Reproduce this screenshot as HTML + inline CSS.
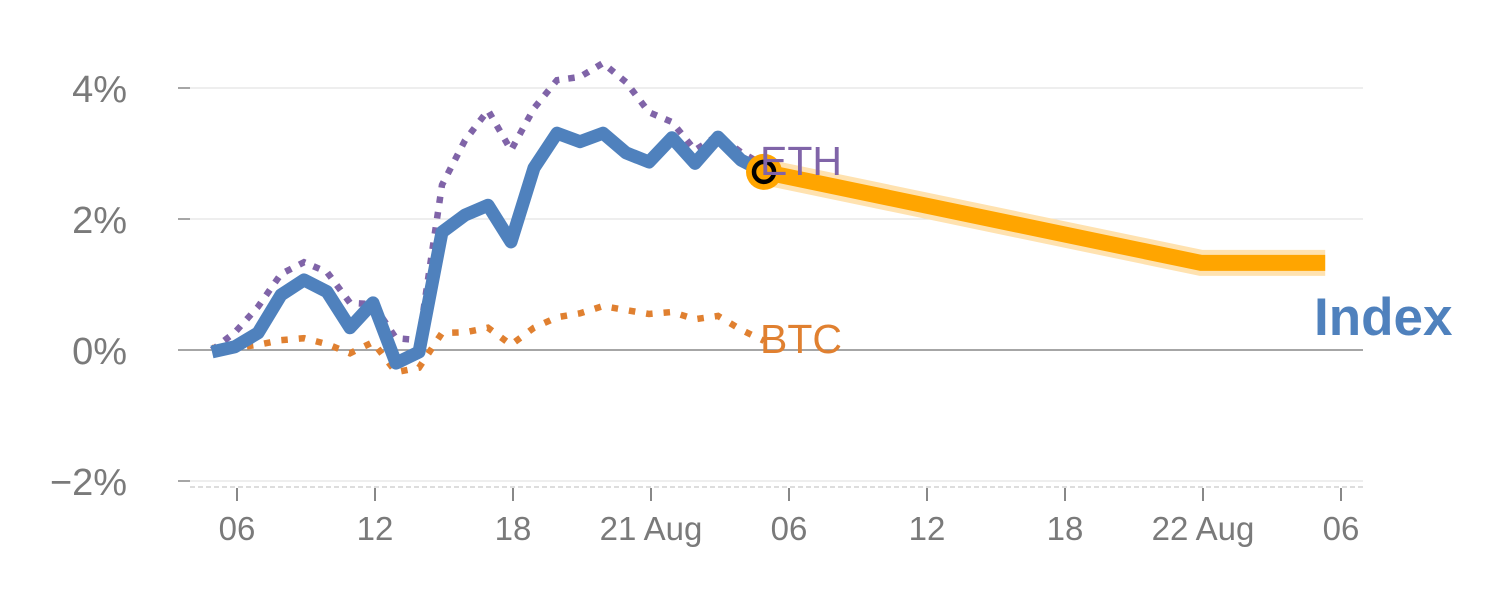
<!DOCTYPE html>
<html><head><meta charset="utf-8"><style>
html,body{margin:0;padding:0;background:#fff;}
svg{display:block;font-family:"Liberation Sans",sans-serif;}
</style></head><body>
<svg id="chart" width="1500" height="600" viewBox="0 0 1500 600" xmlns="http://www.w3.org/2000/svg">
<g id="grid"></g>
<g id="axes"></g>
<g id="series"></g>
<g id="labels"></g>
</svg>
<script>
// data (hours since 05:00 on first day)
const indexHours = [0,1,2,3,4,5,6,7,8,9,10,11,12,13,14,15,16,17,18,19,20,21,22,23,24];
const indexValues = [-0.03,0.05,0.26,0.84,1.07,0.89,0.34,0.72,-0.2,-0.03,1.8,2.06,2.21,1.65,2.78,3.31,3.18,3.31,3.01,2.87,3.24,2.85,3.25,2.9,2.72];
const ethValues = [0,0.27,0.66,1.16,1.34,1.19,0.72,0.7,0.18,0.15,2.52,3.2,3.66,3.05,3.69,4.12,4.17,4.38,4.09,3.63,3.48,3.05,3.28,3.02,2.82];
const btcValues = [0.03,0.03,0.08,0.15,0.18,0.09,-0.05,0.12,-0.34,-0.27,0.26,0.27,0.34,0.08,0.34,0.5,0.56,0.67,0.61,0.55,0.58,0.47,0.52,0.31,0.14];
const forecastHours = [24,43,48.4];
const forecastValues = [2.72,1.33,1.33];
const yTicks = [4,2,0,-2];
const yTickLabels = ["4%","2%","0%","\u22122%"];
const xTickHours = [1,7,13,19,25,31,37,43,49];
const xTickLabels = ["06","12","18","21 Aug","06","12","18","22 Aug","06"];

const NS="http://www.w3.org/2000/svg";
const x = h => 212 + 23*h;
const y = v => 350 - 65.5*v;
function mk(tag, attrs, parent){const e=document.createElementNS(NS,tag);for(const k in attrs)e.setAttribute(k,attrs[k]);parent.appendChild(e);return e;}
const grid=document.getElementById('grid'), axes=document.getElementById('axes'), series=document.getElementById('series'), labels=document.getElementById('labels');
const xt = h => 214 + 23*h;

yTicks.forEach((t,i)=>{
  const g=mk('line',{x1:190,x2:1363,y1:y(t),y2:y(t),stroke:t===0?'#888':'#e3e3e3','stroke-width':t===0?1.5:1.2},grid);
  
  
  const tk=mk('line',{x1:178,x2:190,y1:y(t),y2:y(t),stroke:'#888','stroke-width':1.5},axes);
  
  
  const tl=mk('text',{x:127,y:y(t)+14,'text-anchor':'end','font-size':38,fill:'#7a7a7a'},axes);
  tl.textContent=yTickLabels[i];
  
  
});
const base=mk('line',{x1:190,x2:1363,y1:487,y2:487,stroke:'#ddd','stroke-width':2,'stroke-dasharray':'5,3'},axes);


xTickHours.forEach((h,i)=>{
  const tk=mk('line',{x1:xt(h),x2:xt(h),y1:488,y2:501,stroke:'#888','stroke-width':2},axes);
  
  
  const tl=mk('text',{x:xt(h),y:540,'text-anchor':'middle','font-size':33,fill:'#7a7a7a'},axes);
  tl.textContent=xTickLabels[i];
  
  
});
function pts(hs,vs){return hs.map((h,i)=>x(h)+','+y(vs[i])).join(' ');}
const ethL=mk('polyline',{points:pts(indexHours,ethValues),fill:'none',stroke:'#8064a8','stroke-width':6.5,'stroke-dasharray':'6.5,9'},series);


const btcL=mk('polyline',{points:pts(indexHours,btcValues),fill:'none',stroke:'#e08030','stroke-width':6.5,'stroke-dasharray':'6.5,11'},series);


const idxL=mk('polyline',{points:pts(indexHours,indexValues),fill:'none',stroke:'#4f81bd','stroke-width':13,'stroke-linejoin':'round'},series);


const fh=mk('polyline',{points:pts(forecastHours,forecastValues),fill:'none',stroke:'#ffe2b0','stroke-width':26},series);


const fl=mk('polyline',{points:pts(forecastHours,forecastValues),fill:'none',stroke:'#ffa500','stroke-width':16},series);


const last=indexValues.length-1;
const m1=mk('circle',{cx:x(indexHours[last]),cy:y(indexValues[last]),r:18,fill:'#ffa500'},series);


const m2=mk('circle',{cx:x(indexHours[last]),cy:y(indexValues[last]),r:10,fill:'none',stroke:'#000','stroke-width':4.5},series);



const t1=mk('text',{x:760,y:175,'font-size':41,fill:'#8064a8'},labels);t1.textContent='ETH';


const t2=mk('text',{x:760,y:353,'font-size':41,fill:'#e08030'},labels);t2.textContent='BTC';


const t3=mk('text',{x:1314,y:335,'font-size':53,'font-weight':'bold',fill:'#4f81bd'},labels);t3.textContent='Index';


</script>
</body></html>
